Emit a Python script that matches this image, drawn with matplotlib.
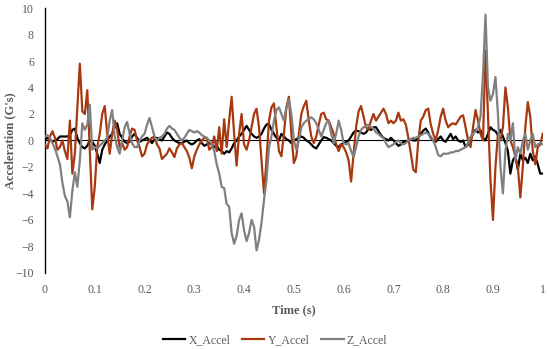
import numpy as np
import matplotlib.pyplot as plt
import matplotlib as mpl

mpl.rcParams['font.family'] = 'Liberation Serif'

# time base, 0.005 s steps
time_s = np.round(np.arange(0, 201) * 0.005, 3)

x_accel = [
    0.0, 0.2, 0.1, -0.1, 0.0, 0.1, 0.3, 0.3, 0.3, 0.3,
    0.4, 0.8, 0.9, 0.2, -0.2, -0.5, -0.6, -0.4, 0.0, -0.1,
    -0.4, -1.0, -1.7, -0.7, -0.3, 0.0, 0.3, 0.5, 1.0, 1.3,
    0.5, 0.2, -0.1, -0.2, -0.1, 0.3, 0.5, 0.2, -0.1, 0.0,
    0.1, 0.2, 0.0, -0.2, 0.1, 0.2, 0.1, 0.0, 0.3, 0.6,
    0.5, 0.2, 0.0, -0.1, -0.2, -0.2, -0.1, 0.0, -0.2, -0.3,
    -0.2, 0.0, 0.1, -0.2, -0.4, -0.3, -0.2, -0.3, -0.5, -0.4,
    -0.7, -0.8, -1.0, -0.8, -0.9, -0.6, -0.2, 0.0, 0.3, 0.5,
    0.8, 1.1, 0.8, 0.5, 0.3, 0.2, 0.3, 0.5, 0.9, 1.2,
    1.25, 0.8, 0.5, 0.2, 0.0, 0.5, 0.3, 0.1, 0.0, -0.2,
    0.0, 0.1, 0.2, 0.3, 0.2, 0.0, -0.1, -0.3, -0.5, -0.6,
    -0.3, 0.0, 0.25, 0.2, 0.1, 0.0, -0.2, -0.4, -0.5, -0.3,
    -0.2, -0.1, 0.0, 0.3, 0.6, 0.75, 0.7, 0.6, 0.5, 0.6,
    0.9, 0.8, 1.0, 1.0, 0.7, 0.4, 0.2, 0.1, 0.0, 0.2,
    0.0, -0.2, -0.4, -0.3, -0.1, -0.1, 0.0, 0.1, 0.0, 0.0,
    0.2, 0.5, 0.75, 0.9, 0.6, 0.2, 0.0, -0.1, 0.1, 0.3,
    0.0, -0.1, 0.2, 0.5, 0.1, 0.3, 0.0, -0.1, 0.0, -0.5,
    -0.3, 0.1, 0.5, 0.8, 0.6, 0.75, 0.2, 0.0, 0.5, 1.0,
    0.8, 0.7, 0.4, 0.8, 0.3, -0.2, -0.8, -2.5, -1.5, -1.2,
    -2.2, -1.0, -1.5, -1.3, -1.7, -1.0, -1.5, -1.2, -1.8, -2.5,
    -2.5,
]

y_accel = [
    -0.3, -0.6, 0.3, 0.7, 0.2, -0.7, -0.5, 0.0, -0.8, -1.4,
    1.5, -2.5, -1.0, 2.5, 5.8, 2.2, 2.0, 3.8, -0.8, -5.2,
    -3.5, -0.5, 0.5, 2.0, 2.6, 0.5, -1.0, 0.5, 1.5, 0.8,
    -0.5, -0.2, -0.7, -0.5, 0.3, 0.9, 0.8, 0.0, -0.5, -1.2,
    -1.0, -0.3, 0.0, 0.2, 0.3, -0.3, -0.6, -1.4, -1.2, -1.0,
    -0.6, -0.9, -1.25, -0.6, -0.3, -0.2, -0.5, -0.8, -1.3, -2.1,
    -1.2, -0.7, -0.3, 0.0, 0.2, 0.2, -0.7, -0.5, 0.3, -0.8,
    1.0, -1.0, 1.6, -0.5, 1.5, 3.3, 0.5, -1.9, 0.5, 2.0,
    -0.3, -0.7, 0.0, 1.0, 2.0, 2.4, 1.0, -1.5, -4.0, -1.5,
    1.5, 2.5, 2.8, 1.0, -0.8, -1.2, 0.5, 2.5, 3.3, 0.5,
    -1.7, -1.2, 0.5, 2.0, 2.6, 3.0, 1.5, 0.3, -0.2, 0.3,
    1.2, 2.0, 2.1, 1.6, 1.5, 1.0, 0.5, -0.3, -0.8, -0.3,
    -0.5, -0.9, -1.5, -3.1, -1.0, 1.0, 2.2, 2.6, 1.8, 1.0,
    0.8, 1.5, 2.0, 1.5, 1.8, 2.1, 2.4, 2.0, 1.3, 1.5,
    1.3, 1.5, 2.1, 1.5, 1.6, 1.2, 0.2, -1.0, -2.2, -2.4,
    0.0, 1.5, 1.8, 2.3, 2.4, 1.2, 0.5, 0.0, 0.8, 1.8,
    2.4, 1.5, 1.0, 1.2, 1.3, 1.2, 1.5, 1.8, 1.9, 1.0,
    0.0, -0.5, 1.0, 2.3, 1.5, 0.5, 0.0, 6.8, 2.0, -3.0,
    -6.0, -2.0, 0.5, 0.0, 1.0, 4.0, 2.5, 0.0, -0.5, -1.2,
    -2.0, -4.3, -2.0, 1.0, 2.9, 1.8, -0.8, -1.8, -0.5, -0.3,
    0.5,
]

z_accel = [
    0.3, 0.4, 0.2, -0.2, -0.6, -1.2, -1.8, -3.2, -4.2, -4.6,
    -5.8, -3.8, -2.4, -3.5, -1.5, 1.3, 0.8, 1.2, 2.7, -0.7,
    -0.5, -0.6, -0.4, -0.2, 0.0, 0.2, 1.5, 2.3, 0.3, -0.5,
    -1.0, 0.0, 1.0, 1.4, 0.5, -0.2, -0.5, -0.5, 0.0, 0.3,
    0.5, 1.2, 1.7, 1.0, 0.3, 0.0, 0.2, 0.3, 0.5, 0.9,
    1.1, 0.9, 0.8, 0.5, 0.2, 0.0, 0.2, 0.5, 0.8, 0.7,
    0.6, 0.7, 0.6, 0.4, 0.3, 0.2, 0.0, -0.3, -0.8, -1.8,
    -2.5, -3.5, -3.6, -4.8, -5.0, -7.0, -7.8, -7.2, -6.0, -5.5,
    -6.8, -7.6, -7.0, -6.0, -6.5, -8.3, -7.5, -6.2, -4.5, -3.0,
    -0.5, 0.3, 1.5, 2.3, 2.5, 2.0, 1.5, 2.5, 3.1, 2.0,
    0.0, -0.7, 0.0, 1.0, 1.3, 1.5, 1.6, 1.75, 1.6, 1.3,
    0.8, 0.3, 0.8, 1.3, 1.5, 0.5, -0.2, 0.5, 1.5, 0.8,
    -0.2, -0.3, -0.2, -0.8, -1.25, -0.5, 0.3, 0.8, 1.0, 1.1,
    1.2, 1.0, 0.9, 0.6, 0.5, 0.3, 0.2, -0.2, -0.5, -0.4,
    -0.3, -0.1, 0.0, -0.2, -0.3, -0.2, 0.0, 0.1, 0.2, 0.2,
    0.3, 0.4, 0.5, 0.6, 0.5, 0.3, 0.0, -0.5, -1.1, -1.2,
    -1.0, -1.0, -1.0, -0.9, -0.9, -0.8, -0.8, -0.7, -0.6, -0.5,
    -0.2, 0.3, 0.5, 0.7, 1.0, 1.8, 5.0, 9.5, 4.0, 3.0,
    3.5, 4.8, 2.0, -2.0, -4.0, -0.8, 0.5, 0.0, 1.3, -1.5,
    -0.5, -1.0, 0.0, 0.5, -0.7, 0.0, 0.5, -0.5, -0.3, -0.2,
    -0.3,
]

x_ticks = np.round(np.arange(0, 1.01, 0.1), 1)
x_tick_labels = ['0', '0.1', '0.2', '0.3', '0.4', '0.5', '0.6', '0.7', '0.8', '0.9', '1']
y_ticks = np.arange(-10, 11, 2)

grey_txt = '#595959'

fig = plt.figure(figsize=(5.5, 3.49), dpi=100)
ax = fig.add_axes([0.0818, 0.218, 0.905, 0.759])

ax.axhline(0, color='black', linewidth=0.8, zorder=1)
ax.plot(time_s, x_accel, color='black', linewidth=1.6, label='X_Accel', zorder=2)
ax.plot(time_s, y_accel, color='#A8380F', linewidth=1.6, label='Y_Accel', zorder=3)
ax.plot(time_s, z_accel, color='#808080', linewidth=1.6, label='Z_Accel', zorder=4)

ax.set_xlim(0, 1)
ax.set_ylim(-10, 10)
ax.set_xticks(x_ticks)
ax.set_xticklabels(x_tick_labels)
ax.set_yticks(y_ticks)
ax.tick_params(axis='both', length=0, labelsize=8.5, labelcolor=grey_txt)
ax.tick_params(axis='x', pad=8)
ax.tick_params(axis='y', pad=8)

for side in ['top', 'right', 'bottom']:
    ax.spines[side].set_visible(False)
ax.spines['left'].set_color('black')
ax.spines['left'].set_linewidth(1.0)

ax.set_xlabel('Time (s)', fontsize=9, fontweight='bold', color=grey_txt, labelpad=6)
ax.set_ylabel("Acceleration (G's)", fontsize=9, fontweight='bold', color=grey_txt)
ax.yaxis.set_label_coords(-0.058, 0.5)

fig.legend(loc='center', bbox_to_anchor=(0.5, 0.026), ncol=3, frameon=False,
           fontsize=8.5, labelcolor=grey_txt, handlelength=1.9, handletextpad=0.25,
           columnspacing=1.0)

fig.savefig('out.png', dpi=100)
